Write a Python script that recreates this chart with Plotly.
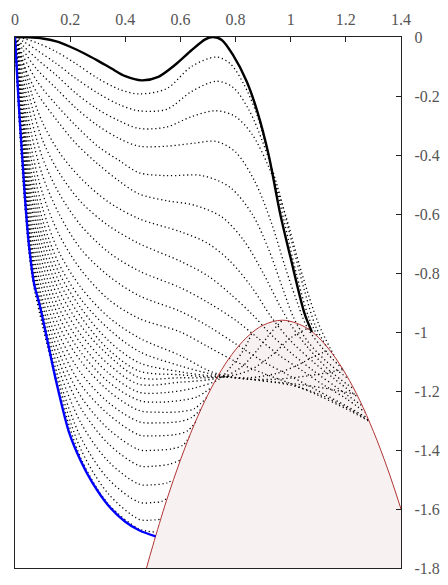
import plotly.graph_objects as go

# Axis settings
X_RANGE = [0, 1.4]
Y_RANGE = [-1.8, 0]
X_TICKS = [0, 0.2, 0.4, 0.6, 0.8, 1.0, 1.2, 1.4]
X_TICK_TEXT = ["0", "0.2", "0.4", "0.6", "0.8", "1", "1.2", "1.4"]
Y_TICKS = [0, -0.2, -0.4, -0.6, -0.8, -1.0, -1.2, -1.4, -1.6, -1.8]
Y_TICK_TEXT = ["0", "-0.2", "-0.4", "-0.6", "-0.8", "-1", "-1.2", "-1.4", "-1.6", "-1.8"]

# Constraint curve (boundary of the shaded region)
PARABOLA_X = [0.477, 0.5, 0.55, 0.6, 0.65, 0.7, 0.75, 0.8, 0.85, 0.9, 0.97,
              1.05, 1.1, 1.15, 1.2, 1.25, 1.3, 1.35, 1.4]
PARABOLA_Y = [-1.8, -1.724, -1.570, -1.434, -1.314, -1.212, -1.127, -1.060,
              -1.010, -0.977, -0.960, -0.982, -1.018, -1.072, -1.143, -1.231,
              -1.337, -1.460, -1.600]

# Initial curve
BLACK_X = [0, 0.05, 0.1, 0.15, 0.2, 0.25, 0.3, 0.35, 0.4, 0.46, 0.52, 0.58,
           0.64, 0.69, 0.718, 0.75, 0.79, 0.84, 0.879, 0.92, 0.962, 1.0,
           1.05, 1.077]
BLACK_Y = [0, -0.001, -0.005, -0.015, -0.033, -0.055, -0.08, -0.107, -0.133,
           -0.147, -0.135, -0.095, -0.045, -0.008, 0.0, -0.01, -0.06, -0.15,
           -0.253, -0.4, -0.6, -0.75, -0.937, -1.0]

# Final curve
BLUE_X = [0, 0.006, 0.012, 0.02, 0.028, 0.036, 0.05, 0.07, 0.09, 0.12, 0.15,
          0.197, 0.24, 0.28, 0.34, 0.40, 0.45, 0.51]
BLUE_Y = [0, -0.1, -0.2, -0.32, -0.43, -0.543, -0.7, -0.84, -0.91, -1.04,
          -1.17, -1.343, -1.44, -1.51, -1.59, -1.643, -1.672, -1.693]

# Intermediate curves of the flow, as (x, y) points
FLOW_PATHS = [
    [(0, 0), (0.03, -0.005), (0.08, -0.02), (0.15, -0.05), (0.22, -0.09), (0.3, -0.14),
     (0.38, -0.178), (0.45, -0.193), (0.55, -0.175), (0.64, -0.1), (0.73, -0.068),
     (0.78, -0.09), (0.83, -0.16), (0.88, -0.27), (0.93, -0.44), (0.975, -0.62),
     (1.02, -0.8), (1.065, -0.95), (1.10, -1.018)],
    [(0, 0), (0.03, -0.015), (0.08, -0.045), (0.15, -0.09), (0.22, -0.14), (0.3, -0.19),
     (0.38, -0.23), (0.45, -0.25), (0.55, -0.245), (0.64, -0.185), (0.73, -0.15),
     (0.79, -0.17), (0.85, -0.25), (0.9, -0.36), (0.95, -0.5), (1.0, -0.68),
     (1.05, -0.86), (1.09, -0.98), (1.13, -1.05)],
    [(0, 0), (0.03, -0.03), (0.08, -0.075), (0.15, -0.13), (0.22, -0.19), (0.3, -0.245),
     (0.38, -0.285), (0.45, -0.31), (0.55, -0.305), (0.64, -0.27), (0.73, -0.25),
     (0.8, -0.27), (0.86, -0.33), (0.92, -0.44), (0.98, -0.6), (1.04, -0.8),
     (1.1, -0.97), (1.16, -1.085)],
    [(0, 0), (0.03, -0.045), (0.08, -0.11), (0.15, -0.175), (0.22, -0.24), (0.3, -0.3),
     (0.38, -0.345), (0.45, -0.37), (0.55, -0.37), (0.65, -0.36), (0.73, -0.354),
     (0.8, -0.39), (0.87, -0.49), (0.93, -0.63), (0.98, -0.78), (1.02, -0.89),
     (1.06, -0.985), (1.12, -1.06), (1.19, -1.127)],
    [(0, 0), (0.03, -0.065), (0.08, -0.15), (0.15, -0.23), (0.22, -0.3), (0.3, -0.37),
     (0.38, -0.42), (0.45, -0.46), (0.55, -0.47), (0.68, -0.47), (0.78, -0.51),
     (0.86, -0.6), (0.92, -0.72), (0.97, -0.85), (1.01, -0.95), (1.06, -1.03),
     (1.13, -1.1), (1.21, -1.159)],
    [(0, 0), (0.03, -0.09), (0.08, -0.19), (0.15, -0.28), (0.22, -0.36), (0.3, -0.43),
     (0.38, -0.49), (0.45, -0.532), (0.55, -0.555), (0.65, -0.57), (0.75, -0.61),
     (0.83, -0.69), (0.9, -0.8), (0.96, -0.91), (1.0, -0.975), (1.06, -1.05),
     (1.14, -1.13), (1.23, -1.194)],
    [(0, 0), (0.01, -0.022), (0.03, -0.085), (0.06, -0.19), (0.1, -0.29), (0.16, -0.39),
     (0.24, -0.48), (0.34, -0.56), (0.45, -0.616), (0.6, -0.66), (0.7, -0.7),
     (0.78, -0.76), (0.86, -0.85), (0.93, -0.95), (1.0, -1.03), (1.08, -1.1),
     (1.16, -1.16), (1.245, -1.222)],
    [(0, 0), (0.01, -0.03), (0.03, -0.11), (0.06, -0.23), (0.1, -0.35), (0.16, -0.46),
     (0.24, -0.56), (0.34, -0.64), (0.45, -0.70), (0.6, -0.76), (0.7, -0.81),
     (0.78, -0.87), (0.86, -0.94), (0.93, -1.01), (1.0, -1.07), (1.08, -1.13),
     (1.17, -1.19), (1.26, -1.251)],
    [(0, 0), (0.01, -0.04), (0.03, -0.14), (0.06, -0.28), (0.1, -0.41), (0.16, -0.53),
     (0.24, -0.64), (0.34, -0.73), (0.45, -0.793), (0.6, -0.85), (0.7, -0.9),
     (0.8, -0.96), (0.88, -1.02), (0.96, -1.08), (1.04, -1.13), (1.12, -1.18),
     (1.2, -1.225), (1.27, -1.272)],
    [(0, 0), (0.01, -0.05), (0.03, -0.17), (0.06, -0.33), (0.1, -0.47), (0.16, -0.6),
     (0.24, -0.72), (0.34, -0.81), (0.45, -0.877), (0.6, -0.93), (0.7, -0.98),
     (0.8, -1.04), (0.9, -1.1), (1.0, -1.15), (1.1, -1.2), (1.2, -1.25), (1.28, -1.292)],
    [(0, 0), (0.01, -0.06), (0.03, -0.2), (0.06, -0.38), (0.1, -0.53), (0.16, -0.67),
     (0.24, -0.79), (0.34, -0.89), (0.45, -0.954), (0.6, -1.0), (0.7, -1.05),
     (0.8, -1.1), (0.9, -1.14), (1.0, -1.175), (1.1, -1.215), (1.2, -1.26), (1.285, -1.303)],
    [(0, 0), (0.01, -0.07), (0.03, -0.23), (0.06, -0.42), (0.1, -0.58), (0.16, -0.73),
     (0.24, -0.85), (0.34, -0.95), (0.45, -1.02), (0.6, -1.08), (0.7, -1.13),
     (0.76, -1.148), (0.85, -1.16), (1.0, -1.18), (1.1, -1.21), (1.2, -1.255), (1.283, -1.299)],
    [(0, 0), (0.01, -0.08), (0.03, -0.26), (0.06, -0.46), (0.1, -0.62), (0.16, -0.77),
     (0.24, -0.89), (0.34, -0.99), (0.45, -1.066), (0.6, -1.115), (0.7, -1.14),
     (0.76, -1.15), (0.85, -1.16), (0.95, -1.17), (1.05, -1.18), (1.15, -1.195), (1.24, -1.212)],
    [(0, 0), (0.01, -0.09), (0.03, -0.28), (0.06, -0.49), (0.1, -0.65), (0.16, -0.8),
     (0.24, -0.92), (0.34, -1.03), (0.45, -1.104), (0.6, -1.135), (0.7, -1.148),
     (0.76, -1.152), (0.85, -1.16), (0.95, -1.16), (1.05, -1.15), (1.12, -1.14), (1.19, -1.127)],
    [(0, 0), (0.01, -0.1), (0.03, -0.3), (0.06, -0.52), (0.1, -0.68), (0.16, -0.83),
     (0.24, -0.95), (0.34, -1.06), (0.45, -1.132), (0.6, -1.145), (0.7, -1.152),
     (0.76, -1.153), (0.85, -1.155), (0.95, -1.14), (1.03, -1.11), (1.09, -1.08), (1.14, -1.062)],
    [(0, 0), (0.01, -0.11), (0.03, -0.32), (0.06, -0.55), (0.1, -0.71), (0.16, -0.86),
     (0.24, -0.98), (0.34, -1.08), (0.45, -1.154), (0.6, -1.155), (0.7, -1.155),
     (0.76, -1.152), (0.85, -1.13), (0.93, -1.08), (1.0, -1.02), (1.06, -0.988)],
    [(0, 0), (0.01, -0.12), (0.03, -0.34), (0.06, -0.58), (0.1, -0.74), (0.16, -0.89),
     (0.24, -1.01), (0.34, -1.11), (0.45, -1.177), (0.6, -1.17), (0.7, -1.162),
     (0.76, -1.15), (0.82, -1.12), (0.88, -1.06), (0.93, -1.0), (0.97, -0.96)],
    [(0, 0), (0.01, -0.13), (0.03, -0.36), (0.06, -0.61), (0.1, -0.77), (0.16, -0.92),
     (0.24, -1.04), (0.34, -1.14), (0.45, -1.204), (0.55, -1.205), (0.65, -1.19),
     (0.74, -1.16), (0.79, -1.11), (0.83, -1.06), (0.86, -1.002)],
    [(0, 0), (0.01, -0.14), (0.03, -0.38), (0.06, -0.64), (0.1, -0.8), (0.16, -0.95),
     (0.24, -1.07), (0.34, -1.17), (0.45, -1.232), (0.52, -1.238), (0.6, -1.232),
     (0.66, -1.22), (0.715, -1.186)],
    [(0, 0), (0.01, -0.15), (0.03, -0.4), (0.06, -0.67), (0.1, -0.83), (0.16, -0.98),
     (0.24, -1.1), (0.34, -1.2), (0.45, -1.266), (0.52, -1.272), (0.6, -1.27),
     (0.65, -1.26), (0.695, -1.222)],
    [(0, 0), (0.01, -0.155), (0.03, -0.42), (0.06, -0.7), (0.1, -0.86), (0.16, -1.01),
     (0.24, -1.14), (0.34, -1.24), (0.45, -1.304), (0.52, -1.308), (0.6, -1.303),
     (0.64, -1.29), (0.675, -1.261)],
    [(0, 0), (0.01, -0.16), (0.03, -0.44), (0.06, -0.72), (0.1, -0.89), (0.16, -1.04),
     (0.24, -1.18), (0.34, -1.28), (0.45, -1.349), (0.5, -1.352), (0.58, -1.348),
     (0.625, -1.335), (0.655, -1.305)],
    [(0, 0), (0.01, -0.165), (0.03, -0.45), (0.06, -0.74), (0.1, -0.91), (0.16, -1.07),
     (0.24, -1.22), (0.34, -1.33), (0.45, -1.399), (0.5, -1.401), (0.57, -1.396),
     (0.61, -1.383), (0.632, -1.355)],
    [(0, 0), (0.01, -0.17), (0.03, -0.46), (0.06, -0.755), (0.1, -0.93), (0.16, -1.1),
     (0.24, -1.26), (0.34, -1.38), (0.45, -1.453), (0.5, -1.455), (0.56, -1.448),
     (0.6, -1.434)],
    [(0, 0), (0.01, -0.175), (0.03, -0.47), (0.06, -0.77), (0.1, -0.95), (0.16, -1.13),
     (0.24, -1.31), (0.34, -1.44), (0.45, -1.516), (0.5, -1.518), (0.55, -1.512),
     (0.575, -1.5)],
    [(0, 0), (0.01, -0.18), (0.03, -0.48), (0.06, -0.78), (0.1, -0.96), (0.16, -1.16),
     (0.24, -1.36), (0.34, -1.5), (0.45, -1.577), (0.5, -1.578), (0.53, -1.575),
     (0.552, -1.564)],
    [(0, 0), (0.01, -0.185), (0.03, -0.49), (0.06, -0.79), (0.1, -0.97), (0.16, -1.18),
     (0.24, -1.4), (0.34, -1.55), (0.45, -1.635), (0.49, -1.638), (0.528, -1.635)],
    [(0, 0), (0.01, -0.19), (0.03, -0.5), (0.06, -0.8), (0.1, -0.98), (0.16, -1.2),
     (0.24, -1.43), (0.34, -1.585), (0.45, -1.668), (0.48, -1.675), (0.514, -1.679)],
]

SERIF = "Liberation Serif"
FRAME = "#222222"
LABEL = "#555555"

fig = go.Figure()

# Shaded region below the constraint curve
fig.add_trace(go.Scatter(
    x=PARABOLA_X + [X_RANGE[1]],
    y=PARABOLA_Y + [Y_RANGE[0]],
    mode="lines", line=dict(width=0, shape="spline"),
    fill="toself", fillcolor="#f8f1f1",
    hoverinfo="skip", showlegend=False,
))

# Intermediate curves, fine dotted
for path in FLOW_PATHS:
    fig.add_trace(go.Scatter(
        x=[p[0] for p in path], y=[p[1] for p in path],
        mode="lines",
        line=dict(color="black", width=1.3, dash="1.2px,2.8px", shape="spline",
                  smoothing=0.9),
        hoverinfo="skip", showlegend=False,
    ))

# Constraint curve outline
fig.add_trace(go.Scatter(
    x=PARABOLA_X, y=PARABOLA_Y, mode="lines",
    line=dict(color="#b03535", width=1, shape="spline"),
    hoverinfo="skip", showlegend=False,
))

# Initial and final curves
fig.add_trace(go.Scatter(
    x=BLACK_X, y=BLACK_Y, mode="lines",
    line=dict(color="black", width=2.4, shape="spline", smoothing=0.8),
    hoverinfo="skip", showlegend=False,
))
fig.add_trace(go.Scatter(
    x=BLUE_X, y=BLUE_Y, mode="lines",
    line=dict(color="#0000ff", width=2.4, shape="spline", smoothing=0.8),
    hoverinfo="skip", showlegend=False,
))

axis_common = dict(
    showgrid=False, zeroline=False,
    showline=True, linecolor=FRAME, linewidth=1.4, mirror=True,
    ticks="inside", ticklen=5, tickwidth=1, tickcolor=FRAME,
    tickfont=dict(family=SERIF, size=16, color=LABEL),
    ticklabeloverflow="allow",
)

fig.update_layout(
    width=448, height=585,
    margin=dict(l=15, r=43, t=37, b=8),
    paper_bgcolor="white", plot_bgcolor="white",
    xaxis=dict(range=X_RANGE, side="top", tickvals=X_TICKS, ticktext=X_TICK_TEXT,
               ticklabelstandoff=4, **axis_common),
    yaxis=dict(range=Y_RANGE, side="right", tickvals=Y_TICKS, ticktext=Y_TICK_TEXT,
               ticklabelstandoff=9, **axis_common),
)

fig.write_html("out.html")
